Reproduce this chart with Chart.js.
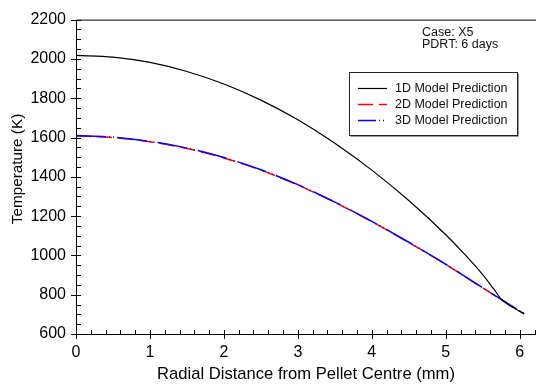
<!DOCTYPE html>
<html>
<head>
<meta charset="utf-8">
<script src="https://cdn.jsdelivr.net/npm/chart.js@4"></script>
<style>
  body { margin: 0; background: #fff; }
  #wrap { width: 536px; height: 387px; }
</style>
</head>
<body>
<div id="wrap"><canvas id="tempChart" width="536" height="387"></canvas></div>
<script>
// radial positions (mm) and temperatures (K)
const radius1D = [0, 0.5, 1, 1.5, 2, 2.5, 3, 3.5, 4, 4.5, 5, 5.25, 5.5, 5.65, 5.75, 6.06];
const temp1D = [2018, 2009, 1982, 1936, 1872, 1790, 1690, 1571, 1434, 1279, 1105, 1008, 902, 828, 778, 702];

const radius2D = [0, 0.5, 1, 1.5, 2, 2.5, 3, 3.5, 4, 4.5, 5, 5.5, 6.06];
const temp2D = [1608, 1600, 1578, 1544, 1496, 1434, 1358, 1270, 1172, 1066, 954, 834, 702];

const radius3D = [0, 0.5, 1, 1.5, 2, 2.5, 3, 3.5, 4, 4.5, 5, 5.5, 6.06];
const temp3D = [1610, 1602, 1580, 1546, 1498, 1436, 1360, 1271, 1173, 1067, 955, 835, 703];

const seriesLabels = ["1D Model Prediction", "2D Model Prediction", "3D Model Prediction"];
const xTicks = [0, 1, 2, 3, 4, 5, 6];
const yTicks = [600, 800, 1000, 1200, 1400, 1600, 1800, 2000, 2200];
const annotation = ["Case: X5", "PDRT: 6 days"];

const FONT = "'Liberation Sans', Arial, Helvetica, sans-serif";

function toPoints(xs, ys) {
  return xs.map((x, i) => ({ x: x, y: ys[i] }));
}

const styles = [
  { color: "#000000", width: 1.2, dash: [] },
  { color: "#ff0000", width: 1.5, dash: [15, 6] },
  { color: "#0000ff", width: 1.5, dash: [30, 3, 1, 3, 1, 3] },
];

// axes frame, inward ticks, legend box and case note
const framePlugin = {
  id: "frame",
  afterDraw(chart) {
    const c = chart.ctx;
    const a = chart.chartArea;
    const xs = chart.scales.x;
    const ys = chart.scales.y;
    c.save();
    c.strokeStyle = "#000";
    c.lineWidth = 1;
    c.beginPath();
    c.moveTo(a.left + 0.5, a.bottom + 0.5);
    c.lineTo(a.left + 0.5, a.top + 0.5);
    c.lineTo(a.right, a.top + 0.5);
    c.moveTo(a.left + 0.5, a.bottom + 0.5);
    c.lineTo(a.right, a.bottom + 0.5);
    // y ticks
    for (let v = 600; v <= 2200; v += 50) {
      const py = Math.round(ys.getPixelForValue(v)) + 0.5;
      const major = v % 200 === 0;
      c.moveTo(a.left + (major ? -5 : 0), py);
      c.lineTo(a.left + 5, py);
    }
    // x ticks
    for (let k = 0; k <= 31; k++) {
      const v = k * 0.2;
      const px = Math.round(xs.getPixelForValue(v)) + 0.5;
      if (px > a.right) break;
      const major = k % 5 === 0;
      c.moveTo(px, a.bottom + (major ? 5 : 0));
      c.lineTo(px, a.bottom - 4);
    }
    c.stroke();

    // legend box
    const bx = 349.5, by = 72.5, bw = 168, bh = 63;
    c.strokeStyle = "#999";
    c.beginPath();
    c.moveTo(bx + 1, by + bh + 1);
    c.lineTo(bx + bw + 1, by + bh + 1);
    c.lineTo(bx + bw + 1, by + 1);
    c.stroke();
    c.strokeStyle = "#222";
    c.strokeRect(bx, by, bw, bh);
    c.font = "12.5px " + FONT;
    c.textBaseline = "middle";
    c.fillStyle = "#111";
    const rows = [88.5, 104.5, 120.5];
    seriesLabels.forEach((lab, i) => {
      c.strokeStyle = styles[i].color;
      c.lineWidth = styles[i].width;
      c.setLineDash(i === 2 ? [18, 3, 1, 3, 1, 3] : styles[i].dash);
      c.beginPath();
      c.moveTo(358, rows[i]);
      c.lineTo(387, rows[i]);
      c.stroke();
      c.setLineDash([]);
      c.fillText(lab, 395, rows[i]);
    });

    // case note
    c.fillText(annotation[0], 422, 33);
    c.fillText(annotation[1], 422, 45);

    // y axis title, sits a little above the middle of the axis
    c.font = "15.3px " + FONT;
    c.textAlign = "center";
    c.textBaseline = "alphabetic";
    c.fillStyle = "#000";
    c.translate(22, 169);
    c.rotate(-Math.PI / 2);
    c.fillText("Temperature (K)", 0, 0);
    c.restore();
  },
};

const ctx = document.getElementById("tempChart").getContext("2d");
new Chart(ctx, {
  type: "scatter",
  data: {
    datasets: [
      { label: seriesLabels[0], data: toPoints(radius1D, temp1D), order: 0 },
      { label: seriesLabels[1], data: toPoints(radius2D, temp2D), order: 2 },
      { label: seriesLabels[2], data: toPoints(radius3D, temp3D), order: 1 },
    ].map((d, i) => Object.assign(d, {
      showLine: true,
      pointRadius: 0,
      borderColor: styles[i].color,
      borderWidth: styles[i].width,
      borderDash: styles[i].dash,
      cubicInterpolationMode: "monotone",
      fill: false,
    })),
  },
  options: {
    responsive: false,
    animation: false,
    layout: { padding: { top: 14, right: 0, bottom: 0, left: 0 } },
    plugins: { legend: { display: false }, tooltip: { enabled: false } },
    scales: {
      x: {
        type: "linear",
        min: 0,
        max: 6.22,
        grid: { display: false, drawTicks: false },
        border: { display: false },
        afterBuildTicks: (s) => { s.ticks = xTicks.map((v) => ({ value: v })); },
        afterFit: (s) => { s.height = 53; },
        ticks: {
          padding: 9, color: "#000", font: { family: FONT, size: 16 },
          callback: (v) => String(v),
        },
        title: {
          display: true,
          text: "Radial Distance from Pellet Centre (mm)",
          color: "#000",
          font: { family: FONT, size: 16.6 },
          padding: { top: 4, bottom: 3 },
        },
      },
      y: {
        type: "linear",
        min: 600,
        max: 2200,
        grid: { display: false, drawTicks: false },
        border: { display: false },
        afterBuildTicks: (s) => { s.ticks = yTicks.map((v) => ({ value: v })); },
        afterFit: (s) => { s.width = 76; },
        ticks: {
          padding: 10, color: "#000", font: { family: FONT, size: 16 },
          callback: (v) => String(v),
        },
      },
    },
  },
  plugins: [framePlugin],
});
</script>
</body>
</html>
